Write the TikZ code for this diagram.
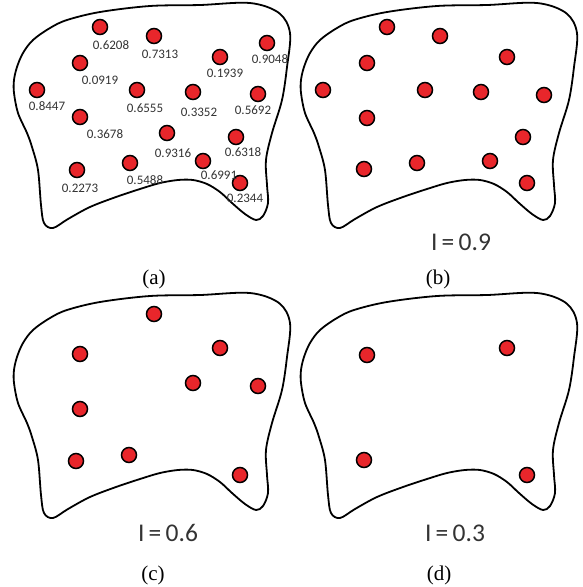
\documentclass[tikz,border=0pt]{standalone}
\usepackage{fontspec}
\setmainfont{Liberation Serif}
\newfontfamily\lblfont{Carlito}
\definecolor{dotred}{HTML}{E8262B}
\definecolor{txtgray}{HTML}{333333}
\begin{document}
\begin{tikzpicture}[x=1pt,y=-1pt,
  blob/.style={line width=1.8pt, line join=round},
  dot/.style={circle, draw=black, line width=1.5pt, fill=dotred, minimum size=15pt, inner sep=0pt},
  val/.style={font=\lblfont\fontsize{13}{15}\selectfont, text=txtgray, inner sep=0pt},
  lev/.style={font=\lblfont\fontsize{25.5}{28}\selectfont, text=txtgray, inner sep=0pt},
  captxt/.style={font=\fontsize{21}{24}\selectfont, inner sep=0pt},
  blobshape/.pic={\draw[blob] plot[smooth cycle, tension=0.55] coordinates {
    (67,20) (100,12) (150,6) (200,5) (250,3) (279,13) (290,33) (287,67)
    (282,100) (272,133) (266,160) (267,185) (268,203) (263,216) (256,220)
    (245,214) (232,203) (220,192) (207,184) (193,180) (178,180) (160,183)
    (140,189) (116,197) (90,207) (68,219) (53,228) (44,223) (41,205)
    (38,170) (32,147) (27,133) (18,113) (14,93) (14,80) (17,67) (23,53)
    (33,40) (50,28)};}]
\useasboundingbox (0,0) rectangle (583,587);

% outlines
\pic (pa) at (0,0) {blobshape};
\pic (pb) at (287,0) {blobshape};
\pic (pc) at (0,290) {blobshape};
\pic (pd) at (287,290) {blobshape};

% panel (a)
\node[dot] (a1) at (100,27) {};
\node[dot] (a2) at (154,36) {};
\node[dot] (a3) at (220,57) {};
\node[dot] (a4) at (267,43) {};
\node[dot] (a5) at (80,63) {};
\node[dot] (a6) at (37,90) {};
\node[dot] (a7) at (137,90) {};
\node[dot] (a8) at (193,92) {};
\node[dot] (a9) at (258,94) {};
\node[dot] (a10) at (80,117) {};
\node[dot] (a11) at (167,133) {};
\node[dot] (a12) at (236,137) {};
\node[dot] (a13) at (77,170) {};
\node[dot] (a14) at (130,163) {};
\node[dot] (a15) at (203,161) {};
\node[dot] (a16) at (240,183) {};
\node[val] (l1) at (111,45) {0.6208};
\node[val] (l2) at (160,54) {0.7313};
\node[val] (l3) at (225,73) {0.1939};
\node[val] (l4) at (270,59) {0.9048};
\node[val] (l5) at (100,80) {0.0919};
\node[val] (l6) at (47,106) {0.8447};
\node[val] (l7) at (145,108) {0.6555};
\node[val] (l8) at (199,112) {0.3352};
\node[val] (l9) at (253,110) {0.5692};
\node[val] (l10) at (105,134) {0.3678};
\node[val] (l11) at (173,153) {0.9316};
\node[val] (l12) at (243,152) {0.6318};
\node[val] (l13) at (80,188) {0.2273};
\node[val] (l14) at (145,180) {0.5488};
\node[val] (l15) at (219,175) {0.6991};
\node[val] (l16) at (245,198) {0.2344};
\node[captxt] (ca) at (154,279) {(a)};

% panel (b)
\node[dot] (b1) at (387,27) {};
\node[dot] (b2) at (440,36) {};
\node[dot] (b3) at (507,57) {};
\node[dot] (b4) at (367,63) {};
\node[dot] (b5) at (323,90) {};
\node[dot] (b6) at (425,90) {};
\node[dot] (b7) at (481,92) {};
\node[dot] (b8) at (544,95) {};
\node[dot] (b9) at (367,118) {};
\node[dot] (b10) at (523,137) {};
\node[dot] (b11) at (364,169) {};
\node[dot] (b12) at (417,163) {};
\node[dot] (b13) at (490,161) {};
\node[dot] (b14) at (527,183) {};
\node[lev] (ib) at (461,242) {I\,=\,0.9};
\node[captxt] (cb) at (438,279) {(b)};

% panel (c)
\node[dot] (c1) at (154,314) {};
\node[dot] (c2) at (80,354) {};
\node[dot] (c3) at (220,348) {};
\node[dot] (c4) at (193,383) {};
\node[dot] (c5) at (258,386) {};
\node[dot] (c6) at (80,409) {};
\node[dot] (c7) at (76,461) {};
\node[dot] (c8) at (129,455) {};
\node[dot] (c9) at (240,475) {};
\node[lev] (ic) at (168,533) {I\,=\,0.6};
\node[captxt] (cc) at (153,575) {(c)};

% panel (d)
\node[dot] (d1) at (367,355) {};
\node[dot] (d2) at (507,348) {};
\node[dot] (d3) at (364,460) {};
\node[dot] (d4) at (527,475) {};
\node[lev] (id) at (455,533) {I\,=\,0.3};
\node[captxt] (cd) at (439,575) {(d)};
\end{tikzpicture}
\end{document}
